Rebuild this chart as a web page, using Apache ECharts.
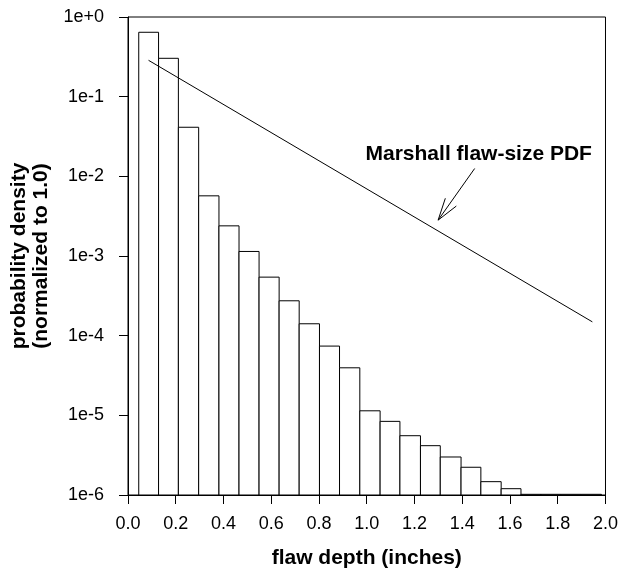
<!DOCTYPE html>
<html>
<head>
<meta charset="utf-8">
<script src="https://cdn.jsdelivr.net/npm/echarts@6/dist/echarts.min.js"></script>
<style>
html,body{margin:0;padding:0;background:#fff;}
#chart{width:621px;height:574px;}
</style>
</head>
<body>
<div id="chart"></div>
<script>
// Histogram bin edges (inches) and normalized probability densities
const binEdges = [0.045, 0.128, 0.211, 0.296, 0.381, 0.465, 0.549, 0.633, 0.717, 0.802,
                  0.886, 0.971, 1.056, 1.139, 1.225, 1.308, 1.395, 1.478, 1.563, 1.646,
                  1.730, 1.815, 1.899, 1.983];
const densities = [0.643, 0.303, 0.0413, 0.00569, 0.00239, 0.00114, 5.43e-4, 2.74e-4, 1.41e-4, 7.4e-5,
                   3.95e-5, 1.14e-5, 8.4e-6, 5.55e-6, 4.16e-6, 3.0e-6, 2.23e-6, 1.47e-6, 1.2e-6,
                   1.02e-6, 1.02e-6, 1.02e-6, 1.02e-6];
// Marshall flaw-size PDF (straight line on log scale)
const marshallX = [0.086, 1.945];
const marshallY = [0.286, 1.49e-4];
// Axis settings
const xTickValues = [0.0, 0.2, 0.4, 0.6, 0.8, 1.0, 1.2, 1.4, 1.6, 1.8, 2.0];
const yTickLabels = ['1e-6', '1e-5', '1e-4', '1e-3', '1e-2', '1e-1', '1e+0'];
// Annotation anchor points (data coordinates)
const annotText = 'Marshall flaw-size PDF';
const annotTextPos = [1.469, 0.019];
const arrowTail = [1.452, 0.01254];
const arrowTip = [1.299, 0.00282];

const FONT = '"Liberation Sans", Arial, sans-serif';
const yMin = 1e-6, yMax = 1;

const barData = densities.map((d, i) => [binEdges[i], binEdges[i + 1], d]);
const lineData = marshallX.map((x, i) => [x, marshallY[i]]);

const chart = echarts.init(document.getElementById('chart'), null, {renderer: 'canvas'});

const option = {
  backgroundColor: '#fff',
  animation: false,
  grid: {
    left: 128, right: 13, top: 17, bottom: 79,
    show: true, borderColor: '#000', borderWidth: 1, backgroundColor: 'transparent'
  },
  xAxis: {
    type: 'value', min: 0, max: 2, interval: 0.2,
    name: 'flaw depth (inches)', nameLocation: 'middle', nameGap: 53,
    nameTextStyle: {fontFamily: FONT, fontSize: 21, fontWeight: 'bold', color: '#000'},
    axisLine: {show: true, onZero: false, lineStyle: {color: '#000', width: 1}},
    axisTick: {show: true, inside: false, length: 9, lineStyle: {color: '#000'}},
    axisLabel: {
      fontFamily: FONT, fontSize: 18, color: '#000', margin: 20,
      formatter: v => {
        const match = xTickValues.find(t => Math.abs(t - v) < 1e-9);
        return match === undefined ? '' : match.toFixed(1);
      }
    },
    splitLine: {show: false}
  },
  yAxis: {
    type: 'log', logBase: 10, min: yMin, max: yMax, interval: 1,
    name: 'probability density\n(normalized to 1.0)', nameLocation: 'middle', nameGap: 71,
    nameTextStyle: {fontFamily: FONT, fontSize: 21, fontWeight: 'bold', color: '#000', lineHeight: 22},
    axisLine: {show: true, lineStyle: {color: '#000', width: 1}},
    axisTick: {show: true, inside: false, length: 9, lineStyle: {color: '#000'}},
    axisLabel: {
      fontFamily: FONT, fontSize: 18, color: '#000', margin: 24,
      formatter: v => {
        const e = Math.round(Math.log10(v));
        const lbl = '1e' + (e >= 0 ? '+' : '-') + Math.abs(e);
        return yTickLabels.indexOf(lbl) >= 0 ? lbl : '';
      }
    },
    splitLine: {show: false},
    minorTick: {show: false}
  },
  series: [
    {
      type: 'custom',
      data: barData,
      encode: {x: [0, 1], y: 2},
      z: 2,
      renderItem: (params, api) => {
        const x0 = api.value(0), x1 = api.value(1), v = api.value(2);
        const p0 = api.coord([x0, v]);
        const p1 = api.coord([x1, yMin]);
        return {
          type: 'rect',
          shape: {x: p0[0], y: p0[1], width: p1[0] - p0[0], height: p1[1] - p0[1]},
          style: {fill: '#fff', stroke: '#000', lineWidth: 1}
        };
      }
    },
    {
      type: 'line',
      data: lineData,
      showSymbol: false,
      symbol: 'none',
      z: 3,
      lineStyle: {color: '#000', width: 1},
      itemStyle: {color: '#000'}
    }
  ]
};
chart.setOption(option);

function drawAnnotation() {
  const tp = chart.convertToPixel({gridIndex: 0}, annotTextPos);
  const tail = chart.convertToPixel({gridIndex: 0}, arrowTail);
  const tip = chart.convertToPixel({gridIndex: 0}, arrowTip);
  const ang = Math.atan2(tail[1] - tip[1], tail[0] - tip[0]);
  const headLen = 23, spread = 17 * Math.PI / 180;
  const b1 = [tip[0] + headLen * Math.cos(ang - spread), tip[1] + headLen * Math.sin(ang - spread)];
  const b2 = [tip[0] + headLen * Math.cos(ang + spread), tip[1] + headLen * Math.sin(ang + spread)];
  chart.setOption({
    graphic: [
      {
        type: 'text', x: tp[0], y: tp[1], z: 10,
        style: {text: annotText, fontFamily: FONT, fontSize: 21, fontWeight: 'bold',
                fill: '#000', align: 'center', verticalAlign: 'middle'}
      },
      {
        type: 'polyline', z: 10,
        shape: {points: [tail, tip]},
        style: {stroke: '#000', lineWidth: 1, fill: null}
      },
      {
        type: 'polyline', z: 10,
        shape: {points: [b1, tip, b2]},
        style: {stroke: '#000', lineWidth: 1, fill: null}
      }
    ]
  });
}
drawAnnotation();
</script>
</body>
</html>
